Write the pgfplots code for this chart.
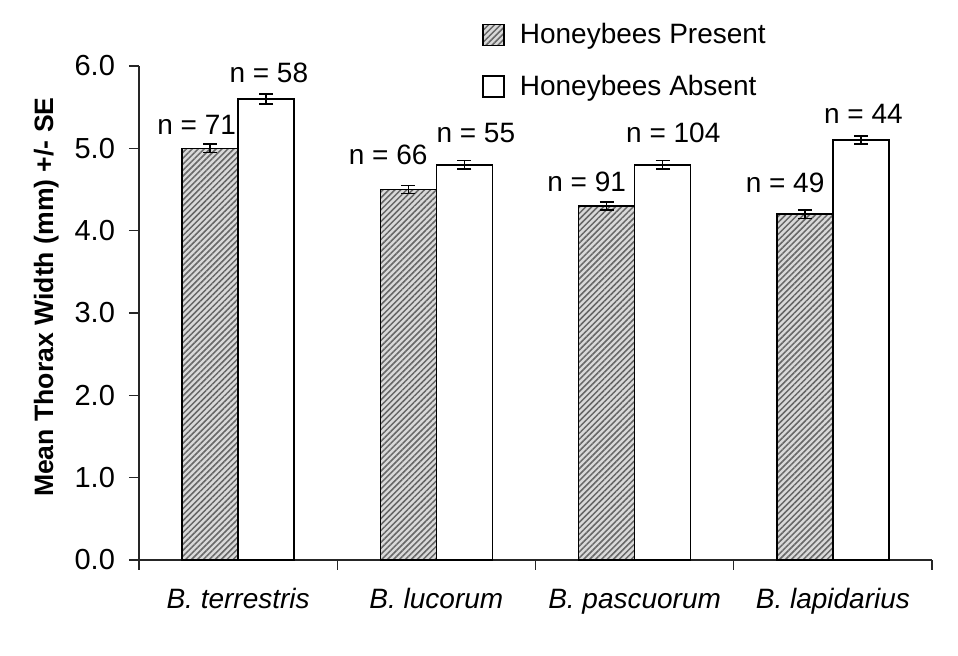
\documentclass[border=0pt]{standalone}
\usepackage{fontspec}
\setmainfont{Liberation Sans}
\usepackage{pgfplots}
\pgfplotsset{compat=1.18}
\usetikzlibrary{patterns.meta}
\pgfplotsset{myerr/.style={error bars/.cd, y dir=both, y explicit,
  error bar style={line width=0.8pt, black},
  error mark options={rotate=90, mark size=3.5pt, line width=0.8pt, black}}}
\begin{document}
\begin{tikzpicture}
\begin{axis}[
  at={(0,0)}, anchor=south west,
  scale only axis, width=396.5pt, height=247pt,
  xmin=-0.5, xmax=3.5, ymin=0, ymax=6,
  axis x line*=bottom, axis y line*=left,
  axis line style={-, line width=0.6pt, black!85},
  clip=false,
  ybar=0pt, bar width=28pt,
  xtick={0,1,2,3},
  xticklabels={B. terrestris, B. lucorum, B. pascuorum, B. lapidarius},
  minor xtick={-0.5,0.5,1.5,2.5,3.5},
  major x tick style={draw=none},
  minor x tick style={draw=black!85, line width=0.6pt},
  ytick={0,1,2,3,4,5,6},
  y tick style={draw=black!85, line width=0.6pt},
  tick align=outside,
  major tick length=5pt, minor tick length=5pt,
  /pgf/number format/assume math mode=true,
  yticklabel style={font=\fontsize{14.5}{17}\selectfont, xshift=-3.5pt, /pgf/number format/.cd, fixed, fixed zerofill, precision=1},
  xticklabel style={font=\fontsize{14}{16}\selectfont\itshape, anchor=base, yshift=-19.5pt},
  ylabel={Mean Thorax Width (mm) +/- SE},
  ylabel style={font=\fontsize{13.3}{16}\selectfont\bfseries, at={(axis description cs:-0.117,0.532)}, anchor=center},
  legend style={draw=none, at={(0.4325,1.095)}, anchor=north west, font=\fontsize{14}{16}\selectfont, row sep=10pt, column sep=5.5pt, inner sep=0pt, cells={anchor=west}},
  legend image code/.code={\draw[#1] (0pt,-5.25pt) rectangle (10.5pt,5.25pt);},
]
\addplot[draw=black, line width=0.75pt, fill=gray!30,
  postaction={pattern={Lines[angle=45,distance=2.1pt,line width=0.75pt]}, pattern color=black!60}, myerr]
  coordinates {(0,5.0) +- (0,0.05) (1,4.5) +- (0,0.05) (2,4.3) +- (0,0.05) (3,4.2) +- (0,0.05)};
\addplot[draw=black, line width=0.75pt, fill=white, myerr]
  coordinates {(0,5.6) +- (0,0.06) (1,4.8) +- (0,0.05) (2,4.8) +- (0,0.05) (3,5.1) +- (0,0.05)};
\legend{Honeybees Present, Honeybees Absent}
\begin{scope}[every node/.style={anchor=base, inner sep=0pt, font=\fontsize{14}{16}\selectfont}]
\node at (axis cs:-0.209,5.174) {n = 71};
\node at (axis cs:0.155,5.794) {n = 58};
\node at (axis cs:0.757,4.798) {n = 66};
\node at (axis cs:1.199,5.065) {n = 55};
\node at (axis cs:1.758,4.470) {n = 91};
\node at (axis cs:2.195,5.065) {n = 104};
\node at (axis cs:2.759,4.458) {n = 49};
\node at (axis cs:3.154,5.296) {n = 44};
\end{scope}
\end{axis}
\pgfresetboundingbox
\path (-69.5pt,-48pt) rectangle (409.5pt,280pt);
\end{tikzpicture}
\end{document}
